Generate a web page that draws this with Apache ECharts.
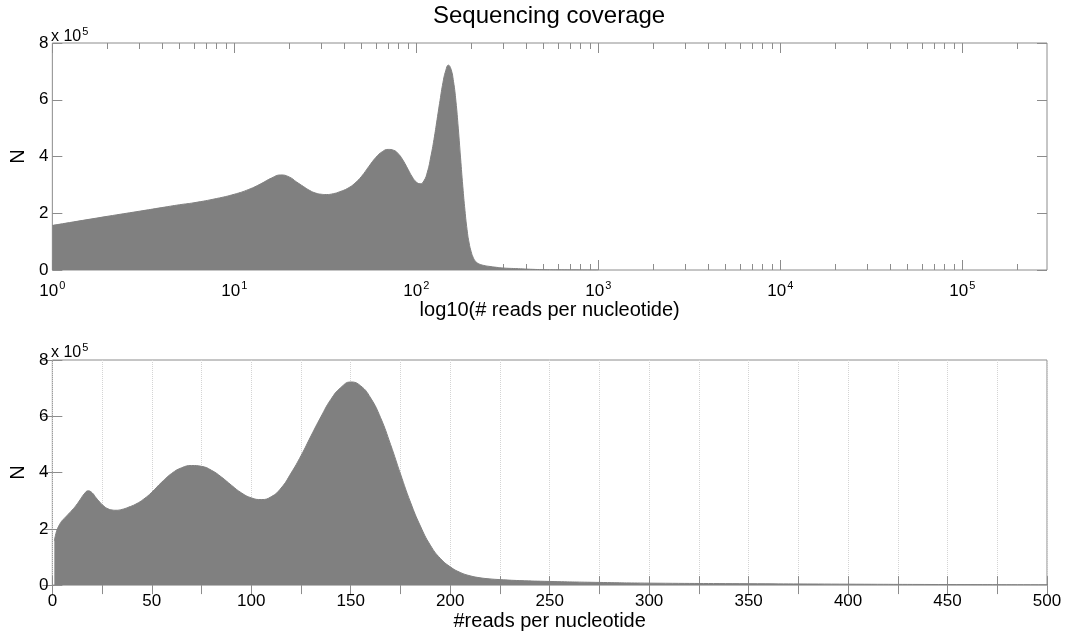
<!DOCTYPE html>
<html><head><meta charset="utf-8">
<script src="https://cdn.jsdelivr.net/npm/echarts@6/dist/echarts.min.js"></script>
<style>html,body{margin:0;padding:0;background:#fff}#c{width:1067px;height:632px}</style>
</head><body><div id="c"></div>
<script>
// ---- data ----
const reads = [1,2,3,4,5,6,8,10,12,14,16,18,20,22,24,26,28,30,32,35,38,42,46,50,55,60,65,70,75,80,85,90,95,100,105,110,115,120,125,130,135,140,145,150,155,160,165,170,175,180,185,190,195,200,205,210,215,220,225,235,250,275,300,350,400,450,500,600,800,1000];
const counts = [157000,189000,207000,220000,230000,237000,252000,267000,284000,304000,324000,335000,328000,310000,294000,280000,271000,267000,266000,269000,276000,288000,306000,330000,366000,397000,417000,425000,422000,408000,384000,355000,328000,310000,304000,314000,345000,398000,460000,530000,598000,660000,702000,722000,708000,665000,595000,500000,395000,295000,210000,142000,95000,65000,45000,33000,26000,22000,19500,16000,13000,9500,7000,5000,3300,2000,1200,600,200,0];
const logMajorTicks = [1,10,100,1000,10000,100000];
const logMinorTicks = [2,3,4,5,6,7,8,9,20,30,40,50,60,70,80,90,200,300,400,500,600,700,800,900,2000,3000,4000,5000,6000,7000,8000,9000,20000,30000,40000,50000,60000,70000,80000,90000,200000];
const yTicks = [0,200000,400000,600000,800000];

const FONT = "'Liberation Sans', Arial, Helvetica, sans-serif";
const FRAME = '#8c8c8c';
const FILL = '#808080';
const LOG_MAX = 292000;
const pts = reads.map((r, i) => [r, counts[i]]);

function logAxis(pos, ticks, len, withLabels) {
  return {
    type: 'log', logBase: 10, gridIndex: 0, position: pos, min: 1, max: LOG_MAX,
    axisLine: { show: false },
    axisTick: { show: true, inside: true, length: len, customValues: ticks, lineStyle: { color: FRAME, width: 1 } },
    axisLabel: withLabels ? {
      show: true, customValues: ticks, margin: 10, color: '#000',
      formatter: v => '{b|10}{s|' + Math.round(Math.log10(v)) + '}',
      rich: {
        b: { fontSize: 17, fontFamily: FONT, color: '#000', verticalAlign: 'bottom' },
        s: { fontSize: 11, fontFamily: FONT, color: '#000', verticalAlign: 'bottom', padding: [0, 0, 9, 1] }
      }
    } : { show: false },
    splitLine: { show: false }
  };
}
function yAx(grid, pos, labels) {
  return {
    type: 'value', gridIndex: grid, position: pos, min: yTicks[0], max: yTicks[yTicks.length - 1], interval: yTicks[1] - yTicks[0],
    axisLine: { show: false },
    axisTick: { show: true, inside: true, length: 10, lineStyle: { color: FRAME } },
    axisLabel: labels ? { show: true, margin: 4, fontSize: 17, fontFamily: FONT, color: '#000', formatter: v => String(v / 100000) } : { show: false },
    splitLine: { show: false },
    name: labels ? 'N' : '', nameLocation: 'middle', nameGap: 14,
    nameTextStyle: { fontSize: 20, fontFamily: FONT, color: '#000' }
  };
}
const expRich = {
  a: { fontSize: 16, fontWeight: 'normal', fontFamily: FONT, color: '#000', verticalAlign: 'bottom' },
  s: { fontSize: 11, fontWeight: 'normal', fontFamily: FONT, color: '#000', verticalAlign: 'bottom', padding: [0, 0, 8, 1] }
};

const option = {
  animation: false,
  backgroundColor: '#fff',
  textStyle: { fontFamily: FONT },
  title: [
    { text: 'Sequencing coverage', left: 433, top: 4, padding: 0,
      textStyle: { fontSize: 24, fontWeight: 'normal', fontFamily: FONT, color: '#000' } },
    { text: '{a|x 10}{s|5}', left: 51, top: 26, padding: 0,
      textStyle: { fontWeight: 'normal', rich: expRich } },
    { text: '{a|x 10}{s|5}', left: 51, top: 342, padding: 0,
      textStyle: { fontWeight: 'normal', rich: expRich } }
  ],
  grid: [
    { left: 50, right: 20, top: 43, height: 227, show: true, borderColor: FRAME, borderWidth: 1, backgroundColor: 'transparent' },
    { left: 50, right: 20, top: 360, height: 226, show: true, borderColor: FRAME, borderWidth: 1, backgroundColor: 'transparent' }
  ],
  xAxis: [
    Object.assign(logAxis('bottom', logMajorTicks, 10, true), {
      name: 'log10(# reads per nucleotide)', nameLocation: 'middle', nameGap: 28,
      nameTextStyle: { fontSize: 20, fontFamily: FONT, color: '#000' } }),
    logAxis('bottom', logMinorTicks, 6, false),
    logAxis('top', logMajorTicks, 10, false),
    logAxis('top', logMinorTicks, 6, false),
    {
      type: 'value', gridIndex: 1, position: 'bottom', min: 0, max: 500, interval: 25,
      axisLine: { show: false },
      axisTick: { show: true, inside: true, length: 9, lineStyle: { color: FRAME } },
      axisLabel: { show: true, margin: 8, fontSize: 17, fontFamily: FONT, color: '#000', formatter: v => (v % 50 === 0 ? String(v) : '') },
      splitLine: { show: true, lineStyle: { color: '#d4d4d4', type: 'dotted', width: 1 } },
      name: '#reads per nucleotide', nameLocation: 'middle', nameGap: 24,
      nameTextStyle: { fontSize: 20, fontFamily: FONT, color: '#000' }
    },
    {
      type: 'value', gridIndex: 1, position: 'top', min: 0, max: 500, interval: 25,
      axisLine: { show: false },
      axisTick: { show: true, inside: true, length: 9, lineStyle: { color: FRAME } },
      axisLabel: { show: false }, splitLine: { show: false }
    }
  ],
  yAxis: [ yAx(0, 'left', true), yAx(0, 'right', false), yAx(1, 'left', true), yAx(1, 'right', false) ],
  series: [
    { type: 'line', xAxisIndex: 0, yAxisIndex: 0, data: pts, showSymbol: false, smooth: 0.5,
      lineStyle: { color: FILL, width: 1 }, areaStyle: { color: FILL, opacity: 1 }, itemStyle: { color: FILL } },
    { type: 'line', xAxisIndex: 4, yAxisIndex: 2, data: pts, showSymbol: false, smooth: 0.5,
      lineStyle: { color: FILL, width: 1 }, areaStyle: { color: FILL, opacity: 1 }, itemStyle: { color: FILL } }
  ]
};
const chart = echarts.init(document.getElementById('c'), null, { renderer: 'canvas' });
chart.setOption(option);
</script>
</body></html>
